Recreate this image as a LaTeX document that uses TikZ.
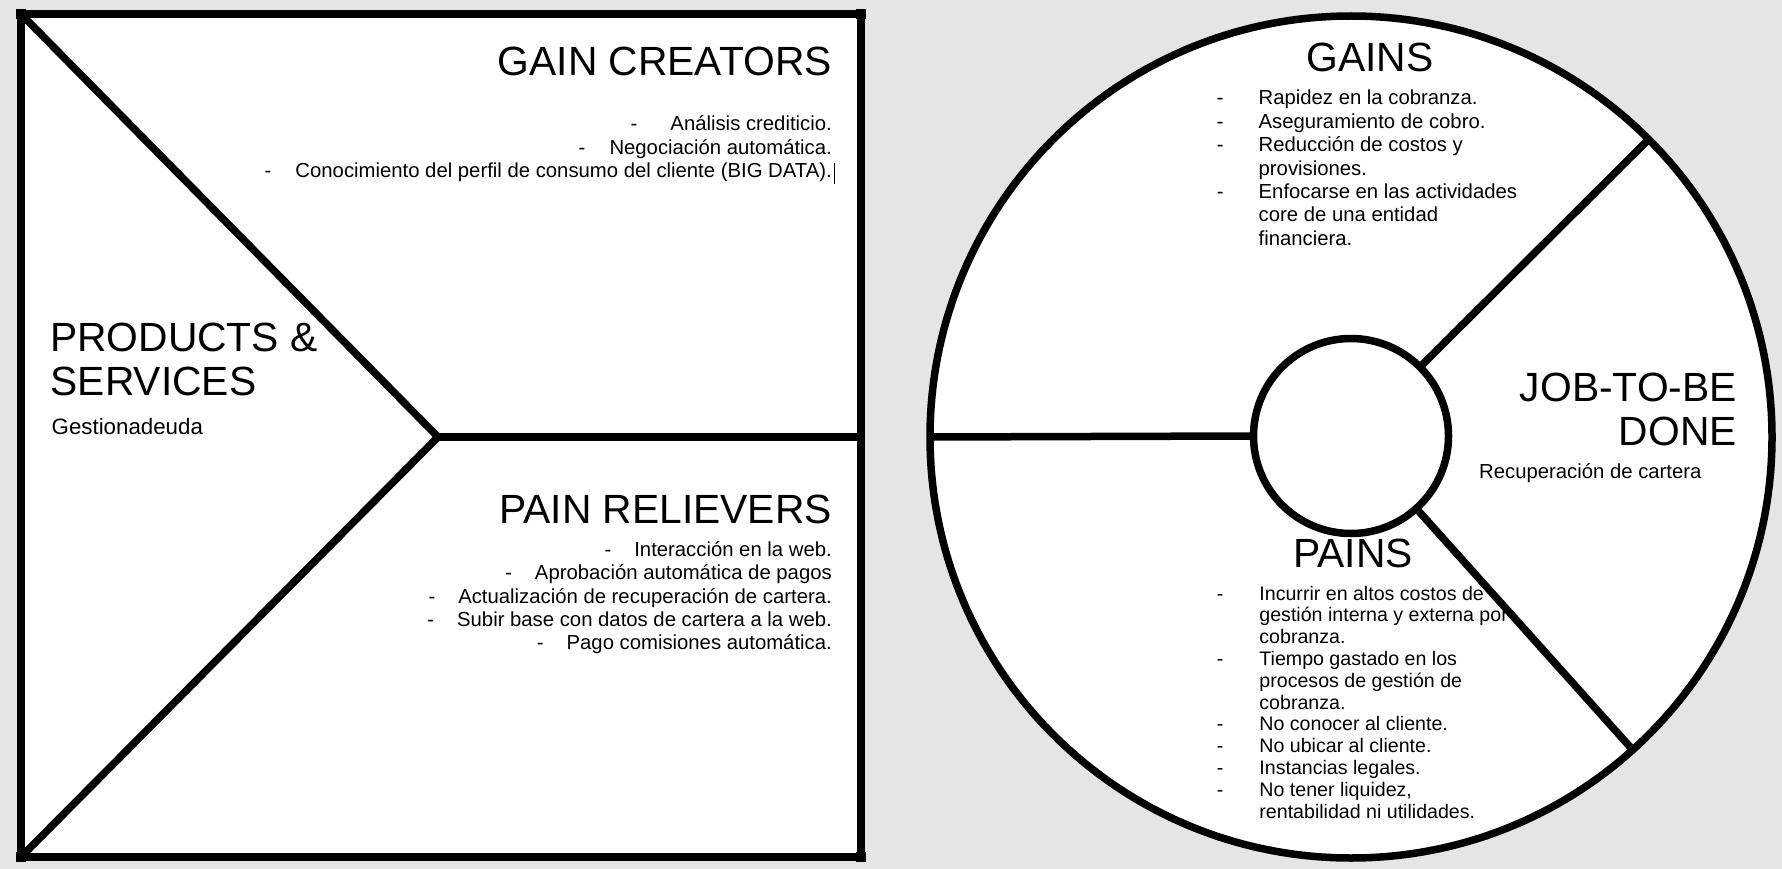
\documentclass[tikz,border=0pt]{standalone}
\usepackage{fontspec}
\setmainfont{Liberation Sans}
\begin{document}
\begin{tikzpicture}[x=1pt,y=-1pt,
  edge/.style={line width=7.5pt},
  head/.style={font=\fontsize{40.8}{44}\selectfont, inner sep=0pt},
  body/.style={font=\fontsize{20.3}{23.4}\selectfont, inner sep=0pt},
  painbody/.style={font=\fontsize{19.6}{21.8}\selectfont, inner sep=0pt},
  subtitle/.style={font=\fontsize{22.3}{26}\selectfont, inner sep=0pt},
  ritem/.style={body, anchor=base east},
]
% page
\fill[black!10] (0,0) rectangle (1782,869);
\useasboundingbox (0,0) rectangle (1782,869);

% ---------- value map (square) ----------
\coordinate (tl) at (21,14);
\coordinate (tr) at (861,14);
\coordinate (br) at (861,857);
\coordinate (bl) at (21,857);
\coordinate (apex) at (438,437);
\coordinate (mid) at (861,437);
\fill[white] (tl) rectangle (br);
\draw[edge, line join=miter] (tl) -- (apex) -- (bl);
\draw[edge] (apex) -- (mid);
\draw[edge] (tl) rectangle (br);
\foreach \c in {tl,tr,br,bl}
  \fill (\c) ++(-5,-5) rectangle ++(10,10);

\node[head, anchor=base east] (gc) at (832,76) {GAIN CREATORS};
\node[ritem] (gc1) at (832,131) {-\hspace{33pt}Análisis crediticio.};
\node[ritem] (gc2) at (832,154.4) {-\hspace{24pt}Negociación automática.};
\node[ritem] (gc3) at (832,177.8) {-\hspace{24pt}Conocimiento del perfil de consumo del cliente (BIG DATA).};
\coordinate (caretTop) at (834.5,163);
\coordinate (caretBot) at (834.5,184);
\draw[line width=1.3pt] (caretTop) -- (caretBot);

\node[head, anchor=base west] (ps1) at (50,351.7) {PRODUCTS \&};
\node[head, anchor=base west] (ps2) at (50.5,395) {SERVICES};
\node[subtitle, anchor=base west] (ps3) at (51.5,434) {Gestionadeuda};

\node[head, anchor=base east] (pr) at (832,523) {PAIN RELIEVERS};
\node[ritem] (pr1) at (832,556.5) {-\hspace{23pt}Interacción en la web.};
\node[ritem] (pr2) at (832,579.8) {-\hspace{23pt}Aprobación automática de pagos};
\node[ritem] (pr3) at (832,603.1) {-\hspace{23pt}Actualización de recuperación de cartera.};
\node[ritem] (pr4) at (832,626.4) {-\hspace{23pt}Subir base con datos de cartera a la web.};
\node[ritem] (pr5) at (832,649.7) {-\hspace{23pt}Pago comisiones automática.};

% ---------- customer profile (circle) ----------
\node[circle, draw, fill=white, edge, minimum size=842pt, inner sep=0pt, outer sep=0pt] (rim) at (1351,437) {};
\node[circle, draw, fill=white, edge, minimum size=195pt, inner sep=0pt] (hub) at (1351,436) {};
\draw[edge] (rim.180) -- (hub.180);
\draw[edge] (hub.45) -- (rim.45);
\draw[edge] (hub.-48) -- (rim.-48);

\node[head, anchor=base] (gains) at (1370,71.7) {GAINS};
\node[body, anchor=base west] (gainlist) at (1216.7,105) {%
  \begin{tabular}[t]{@{}l@{\hspace{35pt}}l@{}}
  - & Rapidez en la cobranza.\\
  - & Aseguramiento de cobro.\\
  - & Reducción de costos y\\
    & provisiones.\\
  - & Enfocarse en las actividades\\
    & core de una entidad\\
    & financiera.
  \end{tabular}};

\node[head, anchor=base east] (job1) at (1737,401.7) {JOB-TO-BE};
\node[head, anchor=base east] (job2) at (1737,445) {DONE};
\node[body, anchor=base west] (jobtxt) at (1479,478) {Recuperación de cartera};

\node[head, anchor=base] (pains) at (1353,567) {PAINS};
\node[painbody, anchor=base west] (painlist) at (1216.7,600) {%
  \begin{tabular}[t]{@{}l@{\hspace{36pt}}l@{}}
  - & Incurrir en altos costos de\\
    & gestión interna y externa por\\
    & cobranza.\\
  - & Tiempo gastado en los\\
    & procesos de gestión de\\
    & cobranza.\\
  - & No conocer al cliente.\\
  - & No ubicar al cliente.\\
  - & Instancias legales.\\
  - & No tener liquidez,\\
    & rentabilidad ni utilidades.
  \end{tabular}};
\end{tikzpicture}
\end{document}
